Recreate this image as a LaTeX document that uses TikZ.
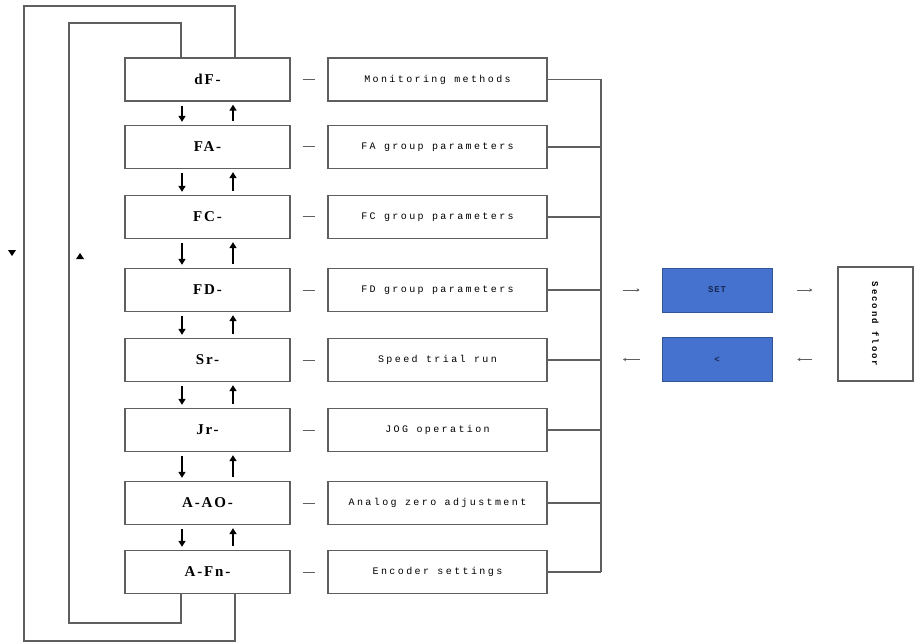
\documentclass[tikz,border=0pt]{standalone}
\usepackage{fontspec}
\setmainfont{Liberation Serif}
\newfontfamily\lblfont[LetterSpace=12]{Liberation Serif}
\newfontfamily\descfont[LetterSpace=24]{Liberation Mono}
\newfontfamily\keyfont[LetterSpace=10]{Liberation Mono}
\newfontfamily\vertfont[LetterSpace=22]{Liberation Mono}
\usetikzlibrary{arrows.meta}
\definecolor{linegray}{RGB}{95,95,95}
\definecolor{keyblue}{RGB}{68,114,206}
\definecolor{keyedge}{RGB}{50,85,150}
\definecolor{keytext}{RGB}{25,40,85}
\begin{document}
\begin{tikzpicture}[x=1pt,y=-1pt,
  lbox/.style={draw=linegray, line width=1.3pt, minimum width=165pt, minimum height=43pt, inner sep=0pt,
    font=\lblfont\fontsize{15}{15}\selectfont\bfseries},
  rbox/.style={draw=linegray, line width=1.3pt, minimum width=219pt, minimum height=43pt, inner sep=0pt,
    font=\descfont\fontsize{10}{10}\selectfont},
  keybox/.style={draw=keyedge, fill=keyblue, line width=0.8pt, minimum width=110pt, minimum height=44pt, inner sep=0pt,
    text=keytext, font=\keyfont\fontsize{9}{9}\selectfont\bfseries},
  floorbox/.style={draw=linegray, line width=1.3pt, minimum width=75pt, minimum height=114pt, inner sep=0pt,
    font=\vertfont\fontsize{9}{9}\selectfont\bfseries},
  wire/.style={draw=linegray, line width=1.3pt},
  vflow/.style={black, line width=1.6pt, -{Triangle[length=6pt,width=7pt]}, shorten <=4pt, shorten >=3pt},
  tick/.style={draw=linegray, line width=1pt, shorten <=12pt, shorten >=12pt},
  sarr/.style={draw=linegray, line width=0.9pt, -{Stealth[length=3pt,width=3.5pt]}},
]
\useasboundingbox (0,0) rectangle (917,644);

% left menu boxes
\node[lbox] (dF)  at (207.5,79.5) {dF-};
\node[lbox] (FA)  at (207.5,147)  {FA-};
\node[lbox] (FC)  at (207.5,217)  {FC-};
\node[lbox] (FD)  at (207.5,290)  {FD-};
\node[lbox] (Sr)  at (207.5,360)  {Sr-};
\node[lbox] (Jr)  at (207.5,430)  {Jr-};
\node[lbox] (AAO) at (207.5,503)  {A-AO-};
\node[lbox] (AFn) at (207.5,572)  {A-Fn-};

% right description boxes
\node[rbox] (rdF)  at (437.5,79.5) {Monitoring methods};
\node[rbox] (rFA)  at (437.5,147)  {FA group parameters};
\node[rbox] (rFC)  at (437.5,217)  {FC group parameters};
\node[rbox] (rFD)  at (437.5,290)  {FD group parameters};
\node[rbox] (rSr)  at (437.5,360)  {Speed trial run};
\node[rbox] (rJr)  at (437.5,430)  {JOG operation};
\node[rbox] (rAAO) at (437.5,503)  {Analog zero adjustment};
\node[rbox] (rAFn) at (437.5,572)  {Encoder settings};

% keys and second floor
\node[keybox] (set)  at (717,290)   {SET};
\node[keybox] (back) at (717,359.5) {<};
\node[floorbox] (floor) at (875.5,324) {\rotatebox{-90}{Second floor}};

\coordinate (bus) at (601,0);

% up/down arrows between left boxes
\foreach \a/\b in {dF/FA,FA/FC,FC/FD,FD/Sr,Sr/Jr,Jr/AAO,AAO/AFn}{
  \draw[vflow] ([xshift=-25.5pt]\a.south) -- ([xshift=-25.5pt]\b.north);
  \draw[vflow] ([xshift=25.5pt]\b.north) -- ([xshift=25.5pt]\a.south);
}

% short ticks between left and right boxes, and bus lines
\foreach \a in {dF,FA,FC,FD,Sr,Jr,AAO,AFn}{
  \draw[tick] (\a.east) -- (r\a.west);
  \draw[wire] (r\a.east) -- (r\a.east -| bus);
}
\draw[wire] (rdF.east -| bus) -- (rAFn.east -| bus);

% outer and inner loops
\draw[wire] ([xshift=27.5pt]dF.north) |- (24,6) -- (24,641) -| ([xshift=27.5pt]AFn.south);
\draw[wire] ([xshift=-26.5pt]dF.north) |- (69,23) -- (69,623) -| ([xshift=-26.5pt]AFn.south);

% direction marks
\fill[black] (8,250) -- (16,250) -- (12,256) -- cycle;
\fill[black] (76,259) -- (84,259) -- (80,253) -- cycle;

% arrows to/from keys
\draw[sarr, shorten <=22pt, shorten >=22pt] (set.west -| bus) -- (set.west);
\draw[sarr, shorten <=25pt, shorten >=25pt] (set.east) -- (set.east -| floor.west);
\draw[sarr, shorten <=25pt, shorten >=25pt] (back.east -| floor.west) -- (back.east);
\draw[sarr, shorten <=22pt, shorten >=22pt] (back.west) -- (back.west -| bus);
\end{tikzpicture}
\end{document}
